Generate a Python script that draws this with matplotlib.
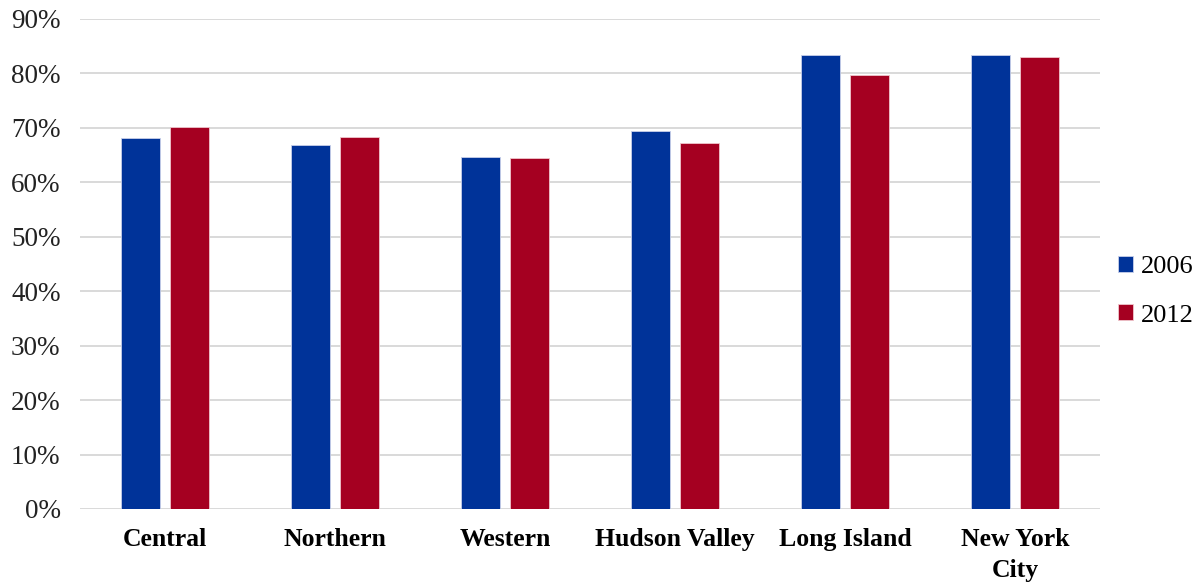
import matplotlib.pyplot as plt
import numpy as np
from matplotlib.ticker import PercentFormatter

# regional share, 2006 vs 2012
regions = ["Central", "Northern", "Western", "Hudson Valley", "Long Island", "New York\nCity"]
share_2006 = [68.1, 66.8, 64.7, 69.4, 83.3, 83.3]
share_2012 = [70.1, 68.3, 64.5, 67.3, 79.8, 83.1]
years = ["2006", "2012"]

blue = "#003399"
red = "#A50021"

plt.rcParams['font.family'] = ['Liberation Serif', 'DejaVu Serif']

fig = plt.figure(figsize=(11.96, 5.86), dpi=100)
ax = fig.add_axes([0.0669, 0.1314, 0.8528, 0.8362])

x = np.arange(len(regions))
width = 0.232
offset = 0.144

ax.bar(x - offset, share_2006, width, color=blue, edgecolor="#c8d0ea", linewidth=0.6, label=years[0], zorder=3)
ax.bar(x + offset, share_2012, width, color=red, edgecolor="#efc6cc", linewidth=0.6, label=years[1], zorder=3)

ax.set_ylim(0, 90)
ax.set_xlim(-0.5, len(regions) - 0.5)
ax.set_yticks(np.arange(0, 91, 10))
ax.yaxis.set_major_formatter(PercentFormatter(decimals=0))
ax.grid(axis="y", color="#d9d9d9", linewidth=1.4, zorder=0)
ax.set_axisbelow(True)

for s in ax.spines.values():
    s.set_visible(False)

ax.set_xticks(x)
ax.set_xticklabels(regions, fontsize=18.5, fontweight="bold", linespacing=1.4)
ax.tick_params(axis="x", length=0, pad=14)
ax.tick_params(axis="y", length=0, pad=14, labelsize=19.5, labelcolor="#222222")

leg = fig.legend(loc="center left", bbox_to_anchor=(0.926, 0.503), frameon=False,
                 fontsize=19, handlelength=0.55, handleheight=0.55,
                 handletextpad=0.3, labelspacing=1.0, borderaxespad=0)

fig.savefig("out.png", dpi=100)
